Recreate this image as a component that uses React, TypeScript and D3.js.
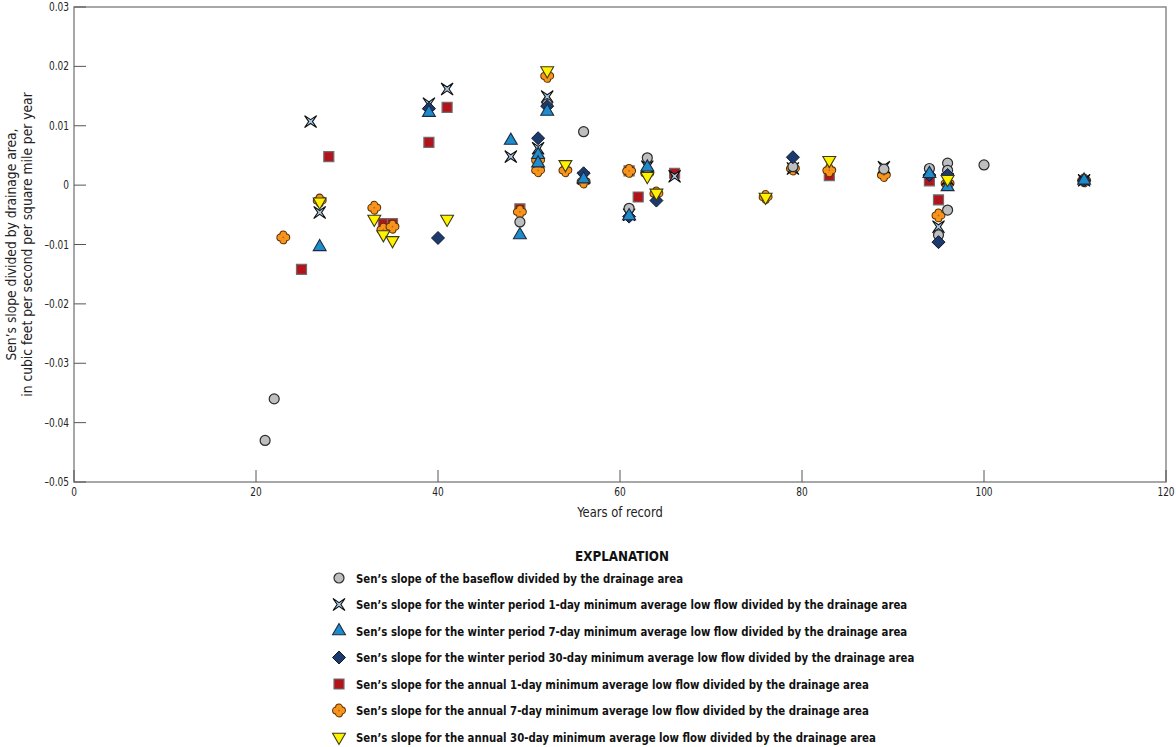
import React from "react";
import * as d3 from "d3";

type P = [number, number];

const baseflow: P[] = [[21,-0.043],[22,-0.036],[49,-0.0062],[52,0.0137],[56,0.009],[61,-0.0039],[63,0.0046],[79,0.0031],[89,0.0027],[94,0.0028],[95,-0.0084],[96,0.0037],[96,0.0025],[96,-0.0042],[100,0.0034]];
const winter1: P[] = [[26,0.0107],[27,-0.0046],[39,0.0137],[41,0.0162],[48,0.0048],[51,0.0062],[52,0.0149],[56,0.0012],[61,-0.005],[63,0.0031],[66,0.0015],[79,0.0028],[89,0.003],[95,-0.007],[96,0.001],[111,0.0008]];
const winter7: P[] = [[27,-0.0104],[39,0.0122],[48,0.0075],[49,-0.0084],[51,0.0051],[51,0.0037],[52,0.0124],[56,0.001],[61,-0.0052],[63,0.003],[94,0.0019],[96,-0.0003],[111,0.0008]];
const winter30: P[] = [[39,0.0129],[40,-0.0089],[51,0.0079],[52,0.0133],[56,0.002],[61,-0.0053],[64,-0.0026],[79,0.0047],[94,0.0017],[95,-0.0096],[96,0.0017],[111,0.0008]];
const annual1: P[] = [[25,-0.0142],[28,0.0048],[34,-0.0065],[35,-0.0065],[39,0.0072],[41,0.0131],[49,-0.004],[61,0.0024],[62,-0.002],[66,0.002],[83,0.0016],[94,0.0007],[95,-0.0025]];
const annual7: P[] = [[23,-0.0088],[27,-0.0026],[33,-0.0038],[34,-0.0075],[35,-0.007],[49,-0.0045],[51,0.0042],[51,0.0025],[52,0.0184],[54,0.0025],[56,0.0006],[61,0.0024],[63,0.002],[64,-0.0014],[76,-0.002],[79,0.0028],[83,0.0025],[89,0.0017],[95,-0.0051],[96,0.0003],[111,0.0008]];
const annual30: P[] = [[27,-0.0028],[33,-0.0057],[34,-0.0083],[35,-0.0093],[41,-0.0057],[52,0.0193],[54,0.0035],[63,0.0015],[64,-0.0013],[76,-0.002],[83,0.0042],[96,0.001]];

const xTicks = [0, 20, 40, 60, 80, 100, 120];
const yTicks = [0.03, 0.02, 0.01, 0, -0.01, -0.02, -0.03, -0.04, -0.05];
const legendLabels = [
  "Sen\u2019s slope of the baseflow divided by the drainage area",
  "Sen\u2019s slope for the winter period 1-day minimum average low flow divided by the drainage area",
  "Sen\u2019s slope for the winter period 7-day minimum average low flow divided by the drainage area",
  "Sen\u2019s slope for the winter period 30-day minimum average low flow divided by the drainage area",
  "Sen\u2019s slope for the annual 1-day minimum average low flow divided by the drainage area",
  "Sen\u2019s slope for the annual 7-day minimum average low flow divided by the drainage area",
  "Sen\u2019s slope for the annual 30-day minimum average low flow divided by the drainage area",
];

const FONT = "'DejaVu Sans Condensed', 'DejaVu Sans', sans-serif";

const x = d3.scaleLinear().domain([0, 120]).range([74, 1166]);
const y = d3.scaleLinear().domain([-0.05, 0.03]).range([482, 7]);

const fmtY = (v: number) => (v === 0 ? "0" : v < 0 ? "\u2013" + d3.format(".2f")(-v) : d3.format(".2f")(v));

function Marker({ kind, cx, cy }: { kind: number; cx: number; cy: number }) {
  const t = `translate(${cx},${cy})`;
  switch (kind) {
    case 0:
      return <circle cx={cx} cy={cy} r={5} fill="#bcbec0" stroke="#2b2b2b" strokeWidth={1.2} />;
    case 1: {
      const r = 6, k = 1.9;
      const pts: [number, number][] = [[-r,-r],[0,-k],[r,-r],[k,0],[r,r],[0,k],[-r,r],[-k,0]];
      const d = "M" + pts.map(p => p.join(",")).join("L") + "Z";
      return <path transform={t} d={d} fill="#a9cde8" stroke="#111" strokeWidth={1.1} strokeLinejoin="miter" />;
    }
    case 2:
      return <path transform={t} d={d3.symbol(d3.symbolTriangle, 72)()!} fill="#1e8ccc" stroke="#1d2a40" strokeWidth={1.1} />;
    case 3: {
      const r = 6.5;
      return <path transform={t} d={`M0,${-r}L${r},0L0,${r}L${-r},0Z`} fill="#1d3a6c" stroke="#0e1a30" strokeWidth={1} />;
    }
    case 4:
      return <path transform={t} d={d3.symbol(d3.symbolSquare, 100)()!} fill="#b3141c" stroke="#6e6e6e" strokeWidth={1.2} />;
    case 5: {
      const o = 3, rr = 3.2;
      const offs = [[0,-o],[o,0],[0,o],[-o,0]];
      return (
        <g transform={t}>
          {offs.map((p, i) => <circle key={"s"+i} cx={p[0]} cy={p[1]} r={rr} fill="#f7941d" stroke="#5a3200" strokeWidth={1.5} />)}
          {offs.map((p, i) => <circle key={"f"+i} cx={p[0]} cy={p[1]} r={rr - 0.3} fill="#f7941d" />)}
          <circle r={0.9} fill="#c26a00" />
        </g>
      );
    }
    default:
      return <path transform={`${t} rotate(180)`} d={d3.symbol(d3.symbolTriangle, 72)()!} fill="#fff200" stroke="#3d3a10" strokeWidth={1.1} />;
  }
}

const series: P[][] = [baseflow, winter1, winter7, winter30, annual1, annual7, annual30];
const drawOrder = [4, 5, 1, 0, 3, 2, 6];
const SX = 0.87;

export default function App() {
  return (
    <svg width={1176} height={747} style={{ position: "absolute", left: 0, top: 0, background: "#fff" }} fontFamily={FONT}>
      <rect x={x(0)} y={y(0.03)} width={x(120) - x(0)} height={y(-0.05) - y(0.03)} fill="none" stroke="#8a8a8a" strokeWidth={1.5} />
      {yTicks.map(v => (
        <g key={"y"+v}>
          <line x1={x(0)} x2={x(0) + 12} y1={y(v)} y2={y(v)} stroke="#555" strokeWidth={1} />
          <text transform={`translate(69,${y(v)}) scale(${SX},1)`} dy="0.35em" textAnchor="end" fontSize={11.5} fill="#222">{fmtY(v)}</text>
        </g>
      ))}
      {xTicks.map(v => (
        <g key={"x"+v}>
          <line x1={x(v)} x2={x(v)} y1={y(-0.05)} y2={y(-0.05) - 12} stroke="#555" strokeWidth={1} />
          <text transform={`translate(${x(v)},${y(-0.05) + 14}) scale(${SX},1)`} textAnchor="middle" fontSize={11.5} fill="#222">{v}</text>
        </g>
      ))}
      <text transform={`translate(${(x(0) + x(120)) / 2},517) scale(0.95,1)`} textAnchor="middle" fontSize={13.5} fill="#222">Years of record</text>
      <g transform={`translate(16,${(y(0.03) + y(-0.05)) / 2}) rotate(-90)`}>
        <text textAnchor="middle" fontSize={13.7} fill="#222" y={0}>Sen’s slope divided by drainage area,</text>
        <text textAnchor="middle" fontSize={13.7} fill="#222" y={16}>in cubic feet per second per square mile per year</text>
      </g>
      {drawOrder.map(si => (
        <g key={"s"+si}>
          {series[si].map((p, i) => <Marker key={i} kind={si} cx={x(p[0])} cy={y(p[1])} />)}
        </g>
      ))}
      <text transform={`translate(622,561) scale(0.95,1)`} textAnchor="middle" fontSize={14} fontWeight="bold" fill="#111">EXPLANATION</text>
      {legendLabels.map((lab, i) => {
        const cy = 578 + i * 26.5;
        return (
          <g key={"l"+i}>
            <Marker kind={i} cx={339} cy={cy} />
            <text transform={`translate(356,${cy}) scale(${SX},1)`} dy="0.35em" fontSize={13} fontWeight="bold" fill="#111">{lab}</text>
          </g>
        );
      })}
    </svg>
  );
}
